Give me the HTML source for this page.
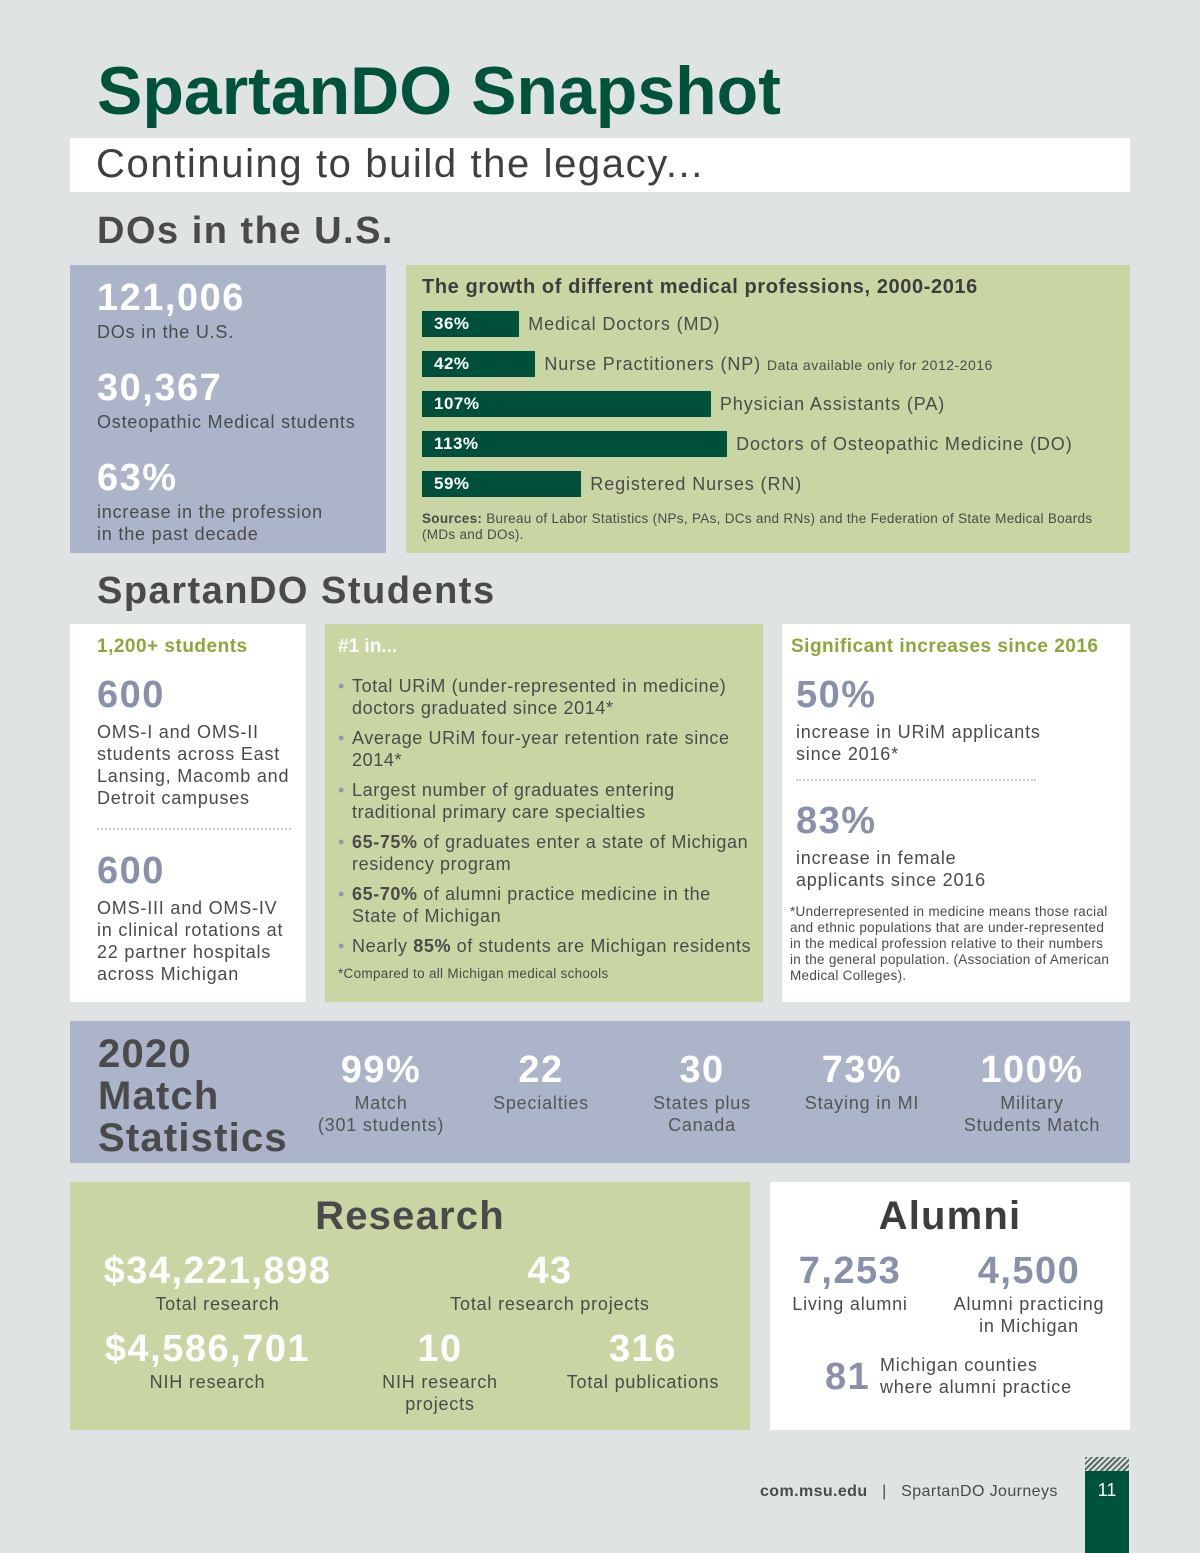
<!DOCTYPE html>
<html><head><meta charset="utf-8"><style>
*{margin:0;padding:0;box-sizing:border-box}
body{width:1200px;height:1553px;background:#dfe3e3;font-family:"Liberation Sans",sans-serif;color:#4a4a4a;position:relative;overflow:hidden}
.a{position:absolute}
.g{background:#c9d6a4}.b{background:#abb4c8}.w{background:#fff}
.big{font-weight:bold;color:#fff;letter-spacing:1.5px}
.num{font-weight:bold;color:#8990aa;letter-spacing:1.5px}
.t{font-size:18px;line-height:22px;letter-spacing:0.8px}
.c{text-align:center}
ul{list-style:none}
li{position:relative;padding-left:14px;font-size:18px;line-height:22px;margin-bottom:8px;letter-spacing:0.6px}
li:before{content:"•";position:absolute;left:0;color:#8e9aa6}
</style></head><body>
<div class="a" style="left:97px;top:52px;font-size:68px;font-weight:bold;color:#00533b">SpartanDO Snapshot</div>
<div class="a w" style="left:70px;top:138px;width:1060px;height:54px;font-size:40px;color:#3f3f3f;padding-left:26px;line-height:52px;letter-spacing:1.6px">Continuing to build the legacy...</div>
<div class="a" style="left:97px;top:210px;font-size:38px;font-weight:bold;color:#4a4a4a;letter-spacing:1.5px">DOs in the U.S.</div>

<div class="a b" style="left:70px;top:265px;width:316px;height:288px">
<div class="a big" style="left:27px;top:12px;font-size:38px">121,006</div>
<div class="a t" style="left:27px;top:56px">DOs in the U.S.</div>
<div class="a big" style="left:27px;top:102px;font-size:38px">30,367</div>
<div class="a t" style="left:27px;top:146px">Osteopathic Medical students</div>
<div class="a big" style="left:27px;top:192px;font-size:38px">63%</div>
<div class="a t" style="left:27px;top:236px">increase in the profession<br>in the past decade</div>
</div>

<div class="a g" style="left:406px;top:265px;width:724px;height:288px">
<div class="a" style="left:16px;top:11px;font-size:20px;font-weight:bold;color:#3d3d3d;letter-spacing:0.6px">The growth of different medical professions, 2000-2016</div>
<div id="bars"></div>
<div class="a" style="left:16px;top:246px;font-size:13.5px;line-height:16px;width:680px;letter-spacing:0.3px"><b>Sources:</b> Bureau of Labor Statistics (NPs, PAs, DCs and RNs) and the Federation of State Medical Boards (MDs and DOs).</div>
</div>

<div class="a" style="left:97px;top:570px;font-size:38px;font-weight:bold;letter-spacing:1.5px">SpartanDO Students</div>

<div class="a w" style="left:70px;top:624px;width:236px;height:378px">
<div class="a" style="left:27px;top:12px;font-size:19px;font-weight:bold;color:#8aa83a;letter-spacing:0.5px">1,200+ students</div>
<div class="a num" style="left:27px;top:50px;font-size:38px">600</div>
<div class="a t" style="left:27px;top:97px;width:200px">OMS-I and OMS-II students across East Lansing, Macomb and Detroit campuses</div>
<div class="a" style="left:27px;top:204px;width:194px;border-top:2px dotted #ccc"></div>
<div class="a num" style="left:27px;top:226px;font-size:38px">600</div>
<div class="a t" style="left:27px;top:273px;width:200px">OMS-III and OMS-IV in clinical rotations at 22 partner hospitals across Michigan</div>
</div>

<div class="a g" style="left:325px;top:624px;width:438px;height:378px">
<div class="a" style="left:13px;top:12px;font-size:19px;font-weight:bold;color:#fff">#1 in...</div>
<ul class="a" style="left:13px;top:51px;width:415px">
<li>Total URiM (under-represented in medicine) doctors graduated since 2014*</li>
<li>Average URiM four-year retention rate since 2014*</li>
<li>Largest number of graduates entering traditional primary care specialties</li>
<li><b>65-75%</b> of graduates enter a state of Michigan residency program</li>
<li><b>65-70%</b> of alumni practice medicine in the State of Michigan</li>
<li>Nearly <b>85%</b> of students are Michigan residents</li>
</ul>
<div class="a" style="left:13px;top:342px;font-size:13.5px;letter-spacing:0.3px">*Compared to all Michigan medical schools</div>
</div>

<div class="a w" style="left:782px;top:624px;width:348px;height:378px">
<div class="a" style="left:9px;top:12px;font-size:19px;font-weight:bold;color:#8aa83a;letter-spacing:0.5px">Significant increases since 2016</div>
<div class="a num" style="left:14px;top:50px;font-size:38px">50%</div>
<div class="a t" style="left:14px;top:97px">increase in URiM applicants<br>since 2016*</div>
<div class="a" style="left:14px;top:155px;width:240px;border-top:2px dotted #ccc"></div>
<div class="a num" style="left:14px;top:176px;font-size:38px">83%</div>
<div class="a t" style="left:14px;top:223px">increase in female<br>applicants since 2016</div>
<div class="a" style="left:8px;top:280px;font-size:13.5px;line-height:16px;width:320px;letter-spacing:0.3px">*Underrepresented in medicine means those racial and ethnic populations that are under-represented in the medical profession relative to their numbers in the general population. (Association of American Medical Colleges).</div>
</div>

<div class="a b" style="left:70px;top:1021px;width:1060px;height:142px">
<div class="a" style="left:28px;top:12px;font-size:40px;line-height:42px;font-weight:bold;color:#4a4a4a;letter-spacing:1.2px">2020<br>Match<br>Statistics</div>
<div class="a c" style="left:231px;top:28px;width:160px"><div class="big" style="font-size:38px">99%</div><div class="t" style="color:#555">Match<br>(301 students)</div></div>
<div class="a c" style="left:391px;top:28px;width:160px"><div class="big" style="font-size:38px">22</div><div class="t" style="color:#555">Specialties</div></div>
<div class="a c" style="left:552px;top:28px;width:160px"><div class="big" style="font-size:38px">30</div><div class="t" style="color:#555">States plus<br>Canada</div></div>
<div class="a c" style="left:712px;top:28px;width:160px"><div class="big" style="font-size:38px">73%</div><div class="t" style="color:#555">Staying in MI</div></div>
<div class="a c" style="left:872px;top:28px;width:180px"><div class="big" style="font-size:38px">100%</div><div class="t" style="color:#555">Military<br>Students Match</div></div>
</div>

<div class="a g" style="left:70px;top:1182px;width:680px;height:248px">
<div class="a c" style="left:0;top:12px;width:680px;font-size:40px;font-weight:bold;letter-spacing:1.2px">Research</div>
<div class="a c" style="left:10px;top:68px;width:275px"><div class="big" style="font-size:38px">$34,221,898</div><div class="t">Total research</div></div>
<div class="a c" style="left:380px;top:68px;width:200px"><div class="big" style="font-size:38px">43</div><div class="t">Total research projects</div></div>
<div class="a c" style="left:10px;top:146px;width:255px"><div class="big" style="font-size:38px">$4,586,701</div><div class="t">NIH research</div></div>
<div class="a c" style="left:300px;top:146px;width:140px"><div class="big" style="font-size:38px">10</div><div class="t">NIH research<br>projects</div></div>
<div class="a c" style="left:483px;top:146px;width:180px"><div class="big" style="font-size:38px">316</div><div class="t">Total publications</div></div>
</div>

<div class="a w" style="left:770px;top:1182px;width:360px;height:248px">
<div class="a c" style="left:0;top:12px;width:360px;font-size:40px;font-weight:bold;color:#3d3d3d;letter-spacing:1.2px">Alumni</div>
<div class="a c" style="left:0;top:68px;width:160px"><div class="num" style="font-size:38px">7,253</div><div class="t">Living alumni</div></div>
<div class="a c" style="left:165px;top:68px;width:188px"><div class="num" style="font-size:38px">4,500</div><div class="t">Alumni practicing<br>in Michigan</div></div>
<div class="a num" style="left:55px;top:174px;font-size:38px">81</div>
<div class="a t" style="left:110px;top:172px">Michigan counties<br>where alumni practice</div>
</div>

<div class="a" style="left:760px;top:1483px;font-size:16px;letter-spacing:0.4px"><b>com.msu.edu</b> &nbsp; | &nbsp; SpartanDO Journeys</div>
<div class="a" style="left:1085px;top:1457px;width:44px;height:14px;background:repeating-linear-gradient(135deg,#5a6b63 0 2px,#dfe3e3 2px 4px)"></div>
<div class="a" style="left:1085px;top:1471px;width:44px;height:82px;background:#00533b;color:#fff;font-size:18px;text-align:center;padding-top:9px">11</div>

<script>
const categories=["Medical Doctors (MD)","Nurse Practitioners (NP)","Physician Assistants (PA)","Doctors of Osteopathic Medicine (DO)","Registered Nurses (RN)"];
const growthValues=[36,42,107,113,59];
const valueLabels=["36%","42%","107%","113%","59%"];
const notes=["","Data available only for 2012-2016","","",""];
const x=v=>v*2.7;
const host=document.getElementById('bars');
categories.forEach((c,i)=>{
  const top=46+i*40;
  const bar=document.createElement('div');
  
  
  bar.className='a';
  bar.style.cssText=`left:16px;top:${top}px;width:${x(growthValues[i])}px;height:26px;background:#004f3a;color:#fff;font-weight:bold;font-size:17px;line-height:26px;padding-left:12px;letter-spacing:0.5px`;
  bar.textContent=valueLabels[i];
  host.appendChild(bar);
  const lab=document.createElement('div');
  
  
  lab.className='a';
  lab.style.cssText=`left:${16+x(growthValues[i])+9}px;top:${top}px;font-size:18px;line-height:26px;white-space:nowrap;letter-spacing:0.9px`;
  lab.innerHTML=c+(notes[i]?` <span style="font-size:14px;letter-spacing:0.5px">${notes[i]}</span>`:'');
  host.appendChild(lab);
});
</script>
</body></html>
